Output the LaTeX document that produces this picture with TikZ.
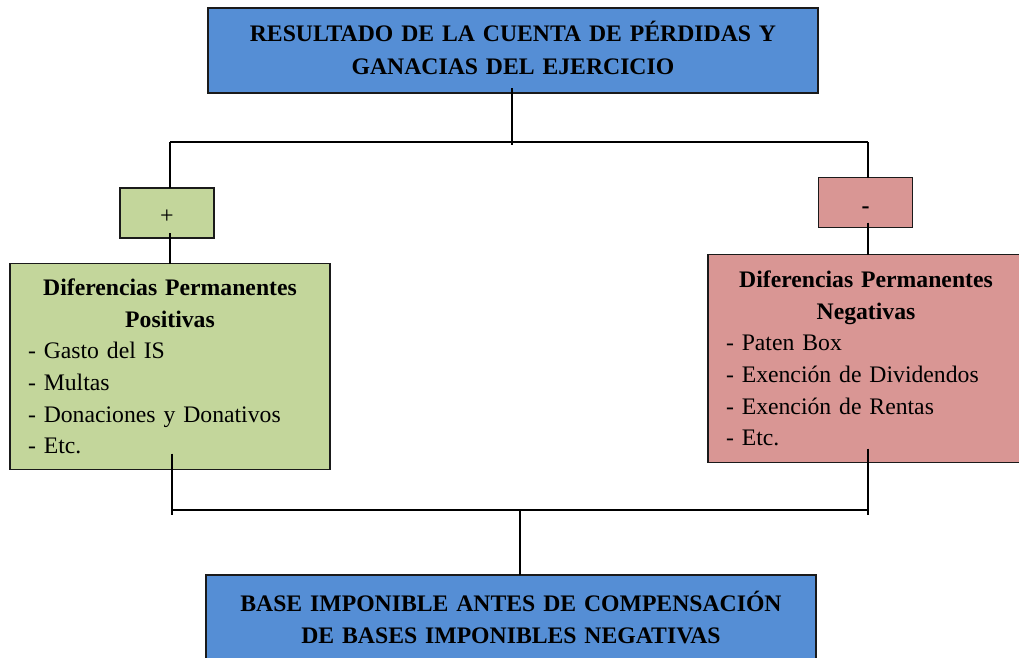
\documentclass[tikz,border=0pt]{standalone}
\usepackage{fontspec}
\setmainfont{Liberation Serif}
\usetikzlibrary{calc}
\definecolor{boxblue}{HTML}{558ED5}
\definecolor{boxgreen}{HTML}{C3D69B}
\definecolor{boxred}{HTML}{D99694}
\definecolor{edge}{HTML}{1A1A1A}
\tikzset{
  box/.style={draw=edge, line width=1.6pt, inner sep=0pt, outer sep=0pt},
  titlebox/.style={box, fill=boxblue, minimum width=610pt, minimum height=85pt,
    text width=600pt, align=center, font=\fontsize{23.7}{32.5}\selectfont\bfseries},
  signbox/.style={box, minimum width=94pt, minimum height=50pt, font=\fontsize{24}{25}\selectfont},
  listbox/.style={box, minimum height=206pt, align=left, font=\fontsize{23.7}{31.7}\selectfont},
  conn/.style={draw=black, line width=1.6pt},
}
\begin{document}
\begin{tikzpicture}[x=1pt,y=-1pt]
\useasboundingbox (0,0) rectangle (1019,657);
\node[titlebox] (top) at (513,50.5) {RESULTADO DE LA CUENTA DE PÉRDIDAS Y\\GANACIAS DEL EJERCICIO\rule[-5pt]{0pt}{0pt}};
\node[signbox, fill=boxgreen] (plus) at (167,213) {\raisebox{-10pt}[0pt][0pt]{+}};
\node[signbox, fill=boxred, font=\fontsize{24}{25}\selectfont\bfseries] (minus) at (865.5,202.5) {\raisebox{-11pt}[0pt][0pt]{-}};
\node[listbox, fill=boxgreen, minimum width=320pt, text width=284pt] (pos) at (170,366.5)
  {\hfill\textbf{Diferencias Permanentes}\hfill\null\\
   \hfill\textbf{Positivas}\hfill\null\\
   - Gasto del IS\\
   - Multas\\
   - Donaciones y Donativos\\
   - Etc.};
\node[listbox, fill=boxred, minimum width=316pt, minimum height=208pt, text width=280pt] (neg) at (866,358.5)
  {\hfill\textbf{Diferencias Permanentes}\hfill\null\\
   \hfill\textbf{Negativas}\hfill\null\\
   - Paten Box\\
   - Exención de Dividendos\\
   - Exención de Rentas\\
   - Etc.};
\node[titlebox] (bottom) at (511,617.5) {BASE IMPONIBLE ANTES DE COMPENSACIÓN\\DE BASES IMPONIBLES NEGATIVAS};
% junctions
\coordinate (jt) at (512,142);
\coordinate (jl) at (170,142);
\coordinate (jr) at (868,142);
\coordinate (bl) at (172,510);
\coordinate (br) at (868,510);
\coordinate (bc) at (520,510);
% top connectors
\draw[conn] ([yshift=5pt]top.south -| jt) -- ([yshift=-3pt]jt);
\draw[conn] (jl) -- (jr);
\draw[conn] (jl) -- (jl |- plus.north);
\draw[conn] ([yshift=5pt]plus.south -| jl) -- (jl |- pos.north);
\draw[conn] (jr) -- (jr |- minus.north);
\draw[conn] ([yshift=5pt]minus.south -| jr) -- (jr |- neg.north);
% bottom connectors
\draw[conn] ([yshift=16pt]pos.south -| bl) -- ([yshift=-5pt]bl);
\draw[conn] ([yshift=14pt]neg.south -| br) -- ([yshift=-5pt]br);
\draw[conn] (bl) -- (br);
\draw[conn] (bc) -- (bc |- bottom.north);
\end{tikzpicture}
\end{document}
